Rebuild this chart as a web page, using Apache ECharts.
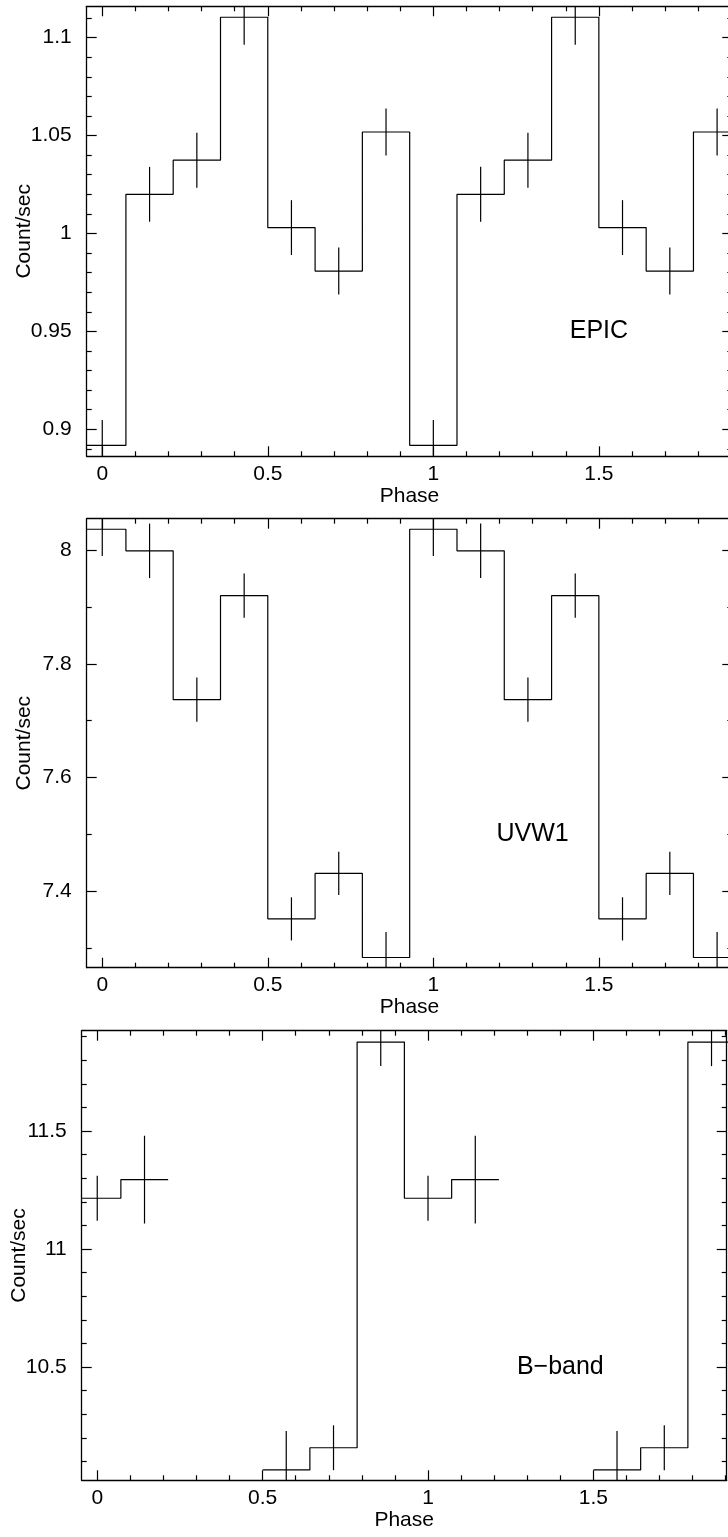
<!DOCTYPE html>
<html><head><meta charset="utf-8">
<script src="https://cdn.jsdelivr.net/npm/echarts@6/dist/echarts.min.js"></script>
<style>html,body{margin:0;padding:0;background:#fff}#c{width:728px;height:1537px}</style>
</head><body><div id="c"></div>
<script>
// ---- data (folded light curve, plotted over two cycles) ----
const phase = [0, 0.1429, 0.2857, 0.4286, 0.5714, 0.7143, 0.8571, 1, 1.1429, 1.2857, 1.4286, 1.5714, 1.7143, 1.8571];
const binWidth = 0.1429;

const epicRate = [0.8918, 1.0200, 1.0374, 1.1104, 1.0030, 0.9808, 1.0518, 0.8918, 1.0200, 1.0374, 1.1104, 1.0030, 0.9808, 1.0518];
const epicErr  = [0.013, 0.014, 0.014, 0.014, 0.014, 0.012, 0.012, 0.013, 0.014, 0.014, 0.014, 0.014, 0.012, 0.012];

const uvw1Rate = [8.037, 7.999, 7.737, 7.920, 7.351, 7.431, 7.283, 8.037, 7.999, 7.737, 7.920, 7.351, 7.431, 7.283];
const uvw1Err  = [0.047, 0.048, 0.039, 0.039, 0.038, 0.038, 0.045, 0.047, 0.048, 0.039, 0.039, 0.038, 0.038, 0.045];

const bRate = [11.215, 11.294, null, null, 10.064, 10.158, 11.877, 11.215, 11.294, null, null, 10.064, 10.158, 11.877];
const bErr  = [0.095, 0.186, null, null, 0.165, 0.095, 0.102, 0.095, 0.186, null, null, 0.165, 0.095, 0.102];

// ---- ticks ----
const xMajor = [0, 0.5, 1, 1.5];
const xMinor = [0.1, 0.2, 0.3, 0.4, 0.6, 0.7, 0.8, 0.9, 1.1, 1.2, 1.3, 1.4, 1.6, 1.7, 1.8, 1.9];
const epicMajor = [0.9, 0.95, 1, 1.05, 1.1];
const epicMinor = [0.89, 0.91, 0.92, 0.93, 0.94, 0.96, 0.97, 0.98, 0.99, 1.01, 1.02, 1.03, 1.04, 1.06, 1.07, 1.08, 1.09, 1.11];
const uvMajor = [7.4, 7.6, 7.8, 8];
const uvMinor = [7.3, 7.5, 7.7, 7.9];
const bMajor = [10.5, 11, 11.5];
const bMinor = [10.1, 10.2, 10.3, 10.4, 10.6, 10.7, 10.8, 10.9, 11.1, 11.2, 11.3, 11.4, 11.6, 11.7, 11.8, 11.9];

const panelNames = ['EPIC', 'UVW1', 'B\u2212band'];
const labelPos = [[1.5, 0.95], [1.30, 7.50], [1.40, 10.5]];

// ---- layout ----
const FONT = '"Liberation Sans", Arial, Helvetica, sans-serif';
const xRange = [-0.047, 1.903];
const panels = [
  {grid: {left: 86.7, top: 6.3, width: 645.6, height: 450}, y: [0.8862, 1.116], yMaj: epicMajor, yMin: epicMinor, rate: epicRate, err: epicErr},
  {grid: {left: 86.7, top: 518.7, width: 645.6, height: 449}, y: [7.265, 8.0556], yMaj: uvMajor, yMin: uvMinor, rate: uvw1Rate, err: uvw1Err},
  {grid: {left: 81.7, top: 1030.7, width: 645, height: 449.6}, y: [10.02, 11.925], yMaj: bMajor, yMin: bMinor, rate: bRate, err: bErr}
];

const black = '#000';
function axis(g, pos, min, max, vals, len, line, labels, name, isY) {
  const a = {
    type: 'value', gridIndex: g, position: pos, min: min, max: max,
    axisLine: {show: line, onZero: false, lineStyle: {color: black, width: 1.3}},
    axisTick: {show: true, inside: true, length: len, customValues: vals, lineStyle: {color: black, width: 1.2}},
    axisLabel: {show: labels, customValues: vals, color: black, fontSize: 21, fontFamily: FONT, margin: isY ? 15 : 7},
    splitLine: {show: false}
  };
  if (name) {
    a.name = name; a.nameLocation = 'middle';
    a.nameGap = isY ? 52 : 29;
    a.nameMoveOverlap = false;
    a.nameTextStyle = {color: black, fontSize: 21, fontFamily: FONT};
  }
  return a;
}

const grids = [], xAxes = [], yAxes = [], series = [];
panels.forEach((p, g) => {
  grids.push(Object.assign({containLabel: false, outerBoundsMode: 'none'}, p.grid));
  xAxes.push(axis(g, 'bottom', xRange[0], xRange[1], xMajor, 10, true, true, 'Phase', false));
  xAxes.push(axis(g, 'bottom', xRange[0], xRange[1], xMinor, 5, false, false, null, false));
  xAxes.push(axis(g, 'top', xRange[0], xRange[1], xMajor, 10, true, false, null, false));
  xAxes.push(axis(g, 'top', xRange[0], xRange[1], xMinor, 5, false, false, null, false));
  yAxes.push(axis(g, 'left', p.y[0], p.y[1], p.yMaj, 10, true, true, 'Count/sec', true));
  yAxes.push(axis(g, 'left', p.y[0], p.y[1], p.yMin, 5, false, false, null, true));
  yAxes.push(axis(g, 'right', p.y[0], p.y[1], p.yMaj, 10, true, false, null, true));
  yAxes.push(axis(g, 'right', p.y[0], p.y[1], p.yMin, 5, false, false, null, true));

  // step histogram: one line per run of contiguous bins
  let run = [];
  const flush = () => {
    if (!run.length) return;
    const data = run.map(i => [phase[i] - binWidth / 2, p.rate[i]]);
    const last = run[run.length - 1];
    data.push([phase[last] + binWidth / 2, p.rate[last]]);
    series.push({type: 'line', xAxisIndex: 4 * g, yAxisIndex: 4 * g, step: 'end', data: data,
      showSymbol: false, silent: true, clip: true, lineStyle: {color: black, width: 1.2}});
    run = [];
  };
  phase.forEach((ph, i) => { if (p.rate[i] == null) flush(); else run.push(i); });
  flush();

  // error bars
  const eb = [];
  phase.forEach((ph, i) => { if (p.rate[i] != null) eb.push([ph, p.rate[i] - p.err[i], p.rate[i] + p.err[i]]); });
  series.push({
    type: 'custom', xAxisIndex: 4 * g, yAxisIndex: 4 * g, data: eb, silent: true,
    renderItem: function (params, api) {
      const cs = params.coordSys;
      const a = api.coord([api.value(0), api.value(1)]);
      const b = api.coord([api.value(0), api.value(2)]);
      if (a[0] < cs.x || a[0] > cs.x + cs.width) return null;
      const clampY = v => Math.max(cs.y, Math.min(cs.y + cs.height, v));
      return {type: 'line', shape: {x1: a[0], y1: clampY(a[1]), x2: b[0], y2: clampY(b[1])},
        style: {stroke: black, lineWidth: 1.2}};
    }
  });
});

const chart = echarts.init(document.getElementById('c'), null, {renderer: 'canvas'});
chart.setOption({
  animation: false, backgroundColor: '#fff',
  grid: grids, xAxis: xAxes, yAxis: yAxes, series: series
});
const graphics = panelNames.map((t, g) => {
  const px = chart.convertToPixel({xAxisIndex: 4 * g, yAxisIndex: 4 * g}, labelPos[g]);
  return {type: 'text', x: px[0], y: px[1], silent: true,
    style: {text: t, fill: black, font: '25px ' + FONT, align: 'center', verticalAlign: 'middle'}};
});
chart.setOption({graphic: graphics});
</script></body></html>
